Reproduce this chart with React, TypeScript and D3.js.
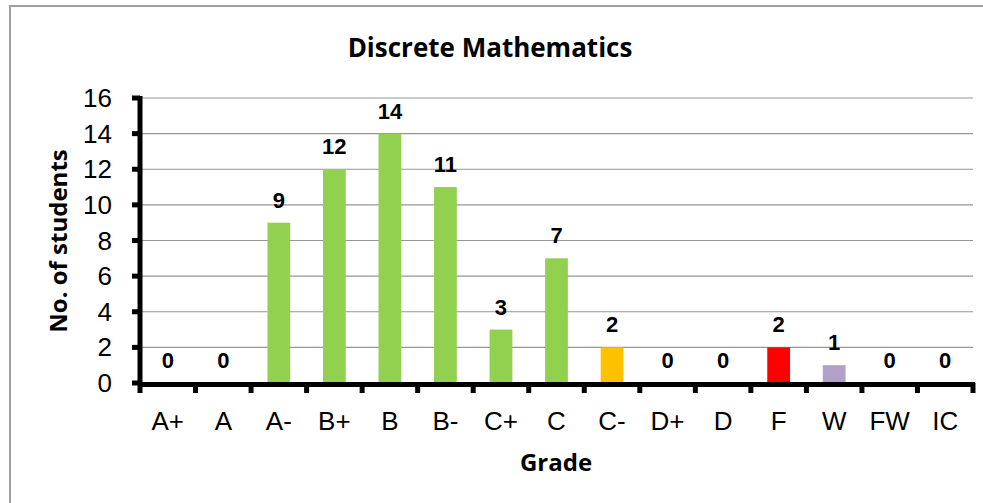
import React, { useEffect, useRef } from 'react';
import * as d3 from 'd3';

const grades = ['A+', 'A', 'A-', 'B+', 'B', 'B-', 'C+', 'C', 'C-', 'D+', 'D', 'F', 'W', 'FW', 'IC'];
const students = [0, 0, 9, 12, 14, 11, 3, 7, 2, 0, 0, 2, 1, 0, 0];
const barColors = ['#92D050', '#92D050', '#92D050', '#92D050', '#92D050', '#92D050', '#92D050', '#92D050', '#FFC000', '#92D050', '#92D050', '#FF0000', '#B1A0C7', '#92D050', '#92D050'];
const yTicks = [0, 2, 4, 6, 8, 10, 12, 14, 16];

const W = 983;
const H = 503;

const App = () => {
  const svgRef = useRef<SVGSVGElement>(null);

  useEffect(() => {
    const svg = d3.select(svgRef.current);
    svg.selectAll('*').remove();

    const left = 140;
    const right = 973;
    const top = 98;
    const bottom = 383;

    const x = d3.scaleBand().domain(grades).range([left, right]).padding(0);
    const y = d3.scaleLinear().domain([0, 16]).range([bottom, top]);
    const barW = x.bandwidth() * 0.41;

    // outer frame (only top and left edges fall inside the picture)
    svg.append('path')
      .attr('d', `M10,${H} L10,6 L${W},6`)
      .attr('fill', 'none')
      .attr('stroke', '#a0a0a0')
      .attr('stroke-width', 2);

    // gridlines
    svg.append('g')
      .selectAll('line')
      .data(yTicks.filter(t => t > 0))
      .join('line')
      .attr('x1', left)
      .attr('x2', right)
      .attr('y1', d => y(d))
      .attr('y2', d => y(d))
      .attr('stroke', '#969696')
      .attr('stroke-width', 1.2);

    // bars
    svg.append('g')
      .selectAll('rect')
      .data(grades)
      .join('rect')
      .attr('x', d => x(d)! + (x.bandwidth() - barW) / 2)
      .attr('width', barW)
      .attr('y', (d, i) => y(students[i]))
      .attr('height', (d, i) => y(0) - y(students[i]))
      .attr('fill', (d, i) => barColors[i]);

    // value labels
    svg.append('g')
      .selectAll('text')
      .data(grades)
      .join('text')
      .attr('x', d => x(d)! + x.bandwidth() / 2)
      .attr('y', (d, i) => y(students[i]) - 15)
      .attr('text-anchor', 'middle')
      .style('font-family', '"Liberation Sans", Arial, sans-serif')
      .style('font-weight', 'bold')
      .style('font-size', '22px')
      .text((d, i) => students[i]);

    // y axis
    const yAxis = svg.append('g');
    yAxis.append('line')
      .attr('x1', left)
      .attr('x2', left)
      .attr('y1', top - 2)
      .attr('y2', bottom + 2)
      .attr('stroke', 'black')
      .attr('stroke-width', 5);
    yAxis.selectAll('line.tick')
      .data(yTicks)
      .join('line')
      .attr('class', 'tick')
      .attr('x1', left - 8)
      .attr('x2', left)
      .attr('y1', d => y(d))
      .attr('y2', d => y(d))
      .attr('stroke', 'black')
      .attr('stroke-width', 5);
    yAxis.selectAll('text')
      .data(yTicks)
      .join('text')
      .attr('x', 112)
      .attr('y', d => y(d) + 9)
      .attr('text-anchor', 'end')
      .style('font-family', '"Liberation Sans", Arial, sans-serif')
      .style('font-size', '26px')
      .text(d => d);

    // x axis
    const xAxis = svg.append('g');
    const bounds = grades.map(g => x(g)!).concat([right]);
    xAxis.append('line')
      .attr('x1', left - 2)
      .attr('x2', right + 2)
      .attr('y1', bottom + 1.5)
      .attr('y2', bottom + 1.5)
      .attr('stroke', 'black')
      .attr('stroke-width', 5);
    xAxis.selectAll('line.tick')
      .data(bounds)
      .join('line')
      .attr('class', 'tick')
      .attr('x1', d => d)
      .attr('x2', d => d)
      .attr('y1', bottom)
      .attr('y2', bottom + 10)
      .attr('stroke', 'black')
      .attr('stroke-width', 5);
    xAxis.selectAll('text')
      .data(grades)
      .join('text')
      .attr('x', d => x(d)! + x.bandwidth() / 2)
      .attr('y', 430)
      .attr('text-anchor', 'middle')
      .style('font-family', '"Liberation Sans", Arial, sans-serif')
      .style('font-size', '26px')
      .text(d => d);

    // titles
    svg.append('text')
      .attr('x', 490)
      .attr('y', 57)
      .attr('text-anchor', 'middle')
      .style('font-family', '"Open Sans", sans-serif')
      .style('font-weight', 'bold')
      .style('font-size', '26px')
      .text('Discrete Mathematics');

    svg.append('text')
      .attr('x', 556)
      .attr('y', 471)
      .attr('text-anchor', 'middle')
      .style('font-family', '"Open Sans", sans-serif')
      .style('font-weight', 'bold')
      .style('font-size', '24px')
      .text('Grade');

    svg.append('text')
      .attr('transform', 'translate(67,241) rotate(-90)')
      .attr('text-anchor', 'middle')
      .style('font-family', '"Open Sans", sans-serif')
      .style('font-weight', 'bold')
      .style('font-size', '24px')
      .text('No. of students');
  }, []);

  return (
    <svg
      ref={svgRef}
      width={W}
      height={H}
      style={{ position: 'absolute', left: 0, top: 0, background: 'white' }}
    ></svg>
  );
};

export default App;
